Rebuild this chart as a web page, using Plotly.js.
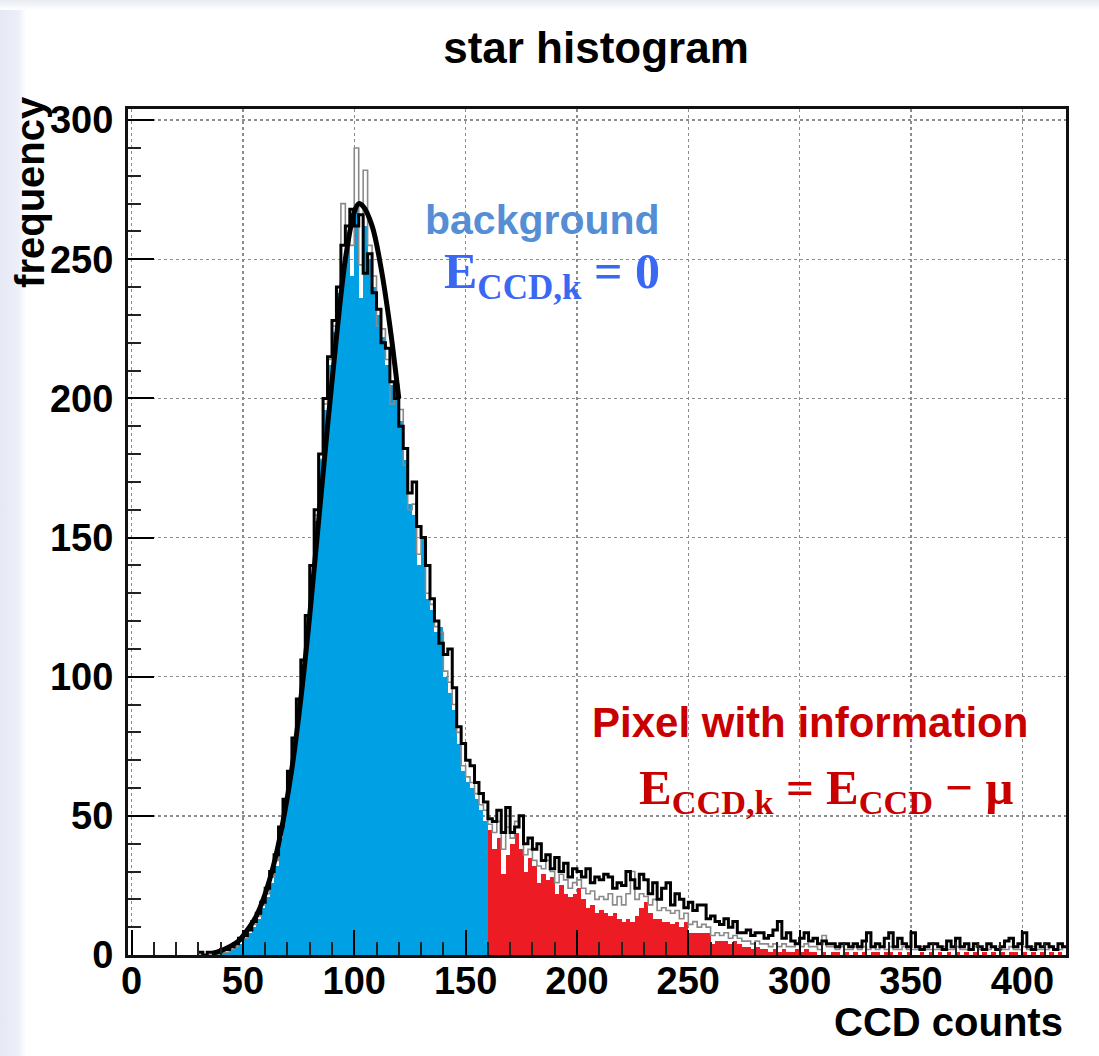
<!DOCTYPE html>
<html>
<head>
<meta charset="utf-8">
<script src="https://cdn.plot.ly/plotly-3.0.1.min.js"></script>
<style>
  html, body { margin: 0; padding: 0; }
  body {
    width: 1099px; height: 1056px; overflow: hidden;
    background: linear-gradient(to right, #e6e8f5 0px, #eceef8 18px, #ffffff 26px);
  }
  #topband { position: absolute; left: 0; top: 0; width: 1099px; height: 10px;
    background: linear-gradient(to bottom, #e9ebf4 0px, #ffffff 10px); }
  #chart { position: absolute; left: 0; top: 0; width: 1099px; height: 1056px; }
</style>
</head>
<body>
<div id="topband"></div>
<div id="chart"></div>
<script>
// Histogram binning: 2-count bins starting at 30 CCD counts
const binLow = 30;
const binWidth = 2;
// Pixels at or above this value carry star information (drawn red)
const signalCut = 160;

// Filled histogram (background in blue, signal in red)
const fillCounts = [
  0, 0, 0, 0, 0,
  1, 1, 2, 3, 4,
  6, 8, 10, 13, 17,
  21, 26, 32, 42, 52,
  62, 74, 88, 100, 116,
  134, 156, 178, 196, 212,
  224, 238, 248, 258, 244,
  270, 236, 262, 250, 240,
  230, 222, 212, 205, 200,
  192, 178, 162, 158, 140,
  150, 128, 124, 116, 118,
  100, 94, 88, 76, 66,
  62, 60, 56, 52, 48,
  45, 38, 42, 29, 36,
  40, 44, 38, 30, 35,
  32, 26, 29, 27, 28,
  22, 25, 22, 21, 22,
  24, 20, 17, 18, 15,
  16, 15, 14, 15, 13,
  12, 13, 12, 14, 17,
  19, 15, 13, 13, 12,
  12, 11, 12, 10, 12,
  8, 8, 8, 8, 8,
  4, 5, 5, 5, 4,
  5, 4, 3, 3, 2,
  3, 2, 2, 1, 2,
  1, 2, 1, 1, 2,
  1, 2, 1, 1, 0,
  1, 0, 1, 1, 0,
  1, 0, 1, 0, 1,
  0, 1, 1, 0, 1,
  1, 0, 1, 0, 1,
  0, 0, 1, 0, 1,
  0, 1, 0, 1, 0,
  1, 0, 1, 0, 1,
  0, 1, 0, 1, 0,
  1, 0, 1, 1, 0,
  1, 0, 1, 0, 1,
  0, 1, 0, 1, 0
];

// Raw star histogram (black outline)
const rawCounts = [
  1, 0, 1, 1, 1,
  2, 2, 3, 4, 6,
  7, 9, 12, 15, 19,
  24, 30, 36, 46, 56,
  66, 78, 92, 106, 122,
  140, 160, 180, 200, 215,
  228, 240, 255, 262, 268,
  262, 266, 245, 252, 238,
  232, 220, 218, 206, 200,
  190, 182, 166, 170, 154,
  150, 140, 128, 120, 112,
  108, 110, 96, 82, 76,
  70, 68, 62, 58, 55,
  49, 48, 52, 44, 53,
  44, 46, 50, 40, 42,
  38, 40, 34, 36, 31,
  35, 30, 33, 28, 31,
  30, 28, 31, 26, 28,
  27, 29, 28, 24, 26,
  25, 30, 27, 24, 29,
  27, 22, 26, 20, 24,
  26, 18, 22, 20, 17,
  19, 16, 18, 18, 13,
  14, 12, 11, 13, 10,
  12, 8, 8, 9, 7,
  8, 8, 6, 7, 9,
  12, 6, 8, 5, 4,
  6, 8, 5, 6, 4,
  5, 4, 4, 3, 4,
  4, 3, 4, 3, 5,
  8, 3, 4, 3, 6,
  8, 3, 6, 4, 3,
  8, 3, 2, 3, 4,
  4, 3, 2, 5, 3,
  6, 3, 4, 2, 4,
  3, 2, 4, 3, 2,
  3, 5, 6, 3, 4,
  8, 3, 2, 4, 3,
  4, 3, 2, 4, 3
];

// Second histogram (grey outline)
const altCounts = [
  0, 0, 0, 0, 0,
  1, 1, 2, 3, 5,
  6, 9, 11, 14, 18,
  22, 28, 34, 44, 54,
  64, 76, 90, 102, 118,
  136, 158, 178, 198, 214,
  226, 240, 270, 262, 255,
  290, 248, 282, 255, 244,
  226, 225, 214, 198, 205,
  196, 176, 160, 162, 144,
  150, 130, 126, 118, 116,
  102, 98, 90, 80, 68,
  64, 62, 58, 54, 52,
  47, 44, 48, 38, 46,
  42, 48, 50, 36, 38,
  34, 32, 31, 34, 30,
  26, 29, 27, 24, 26,
  27, 24, 22, 23, 20,
  21, 20, 22, 18, 21,
  18, 22, 30, 20, 22,
  21, 18, 20, 16, 17,
  16, 15, 16, 13, 15,
  11, 12, 10, 11, 10,
  7, 8, 7, 8, 6,
  7, 6, 5, 5, 4,
  5, 4, 4, 3, 4,
  3, 4, 3, 3, 4,
  3, 4, 3, 3, 2,
  7, 3, 3, 2, 3,
  2, 2, 3, 2, 3,
  2, 3, 2, 3, 2,
  3, 2, 2, 3, 2,
  2, 2, 3, 2, 2,
  2, 2, 3, 2, 2,
  3, 2, 2, 2, 3,
  2, 2, 2, 3, 2,
  2, 2, 3, 2, 2,
  3, 2, 3, 2, 2,
  2, 3, 2, 2, 3
];

// Fitted background peak
const fitX = [36, 40, 44, 48, 52, 56, 60, 64, 68, 72, 76, 80, 84, 88, 92, 96, 100, 102, 104, 108, 112, 116, 120];
const fitY = [0.5, 1.5, 3, 5, 9, 14, 22, 33, 48, 67, 92, 122, 156, 190, 222, 250, 267, 270, 269, 262, 247, 226, 200];

// Axis tick values and labels
const xTicks = [0, 50, 100, 150, 200, 250, 300, 350, 400];
const yTicks = [0, 50, 100, 150, 200, 250, 300];

const blue = '#00a0e4';
const red = '#ed1c24';

const centers = fillCounts.map((_, i) => binLow + binWidth * (i + 0.5));
const fillColors = centers.map(c => (c >= signalCut ? red : blue));

function stepLine(counts) {
  const xs = [], ys = [];
  counts.forEach((v, i) => { xs.push(binLow + binWidth * i); ys.push(v); });
  xs.push(binLow + binWidth * counts.length);
  ys.push(counts[counts.length - 1]);
  return { xs, ys };
}
const rawStep = stepLine(rawCounts);
const altStep = stepLine(altCounts);

const traces = [
  {
    type: 'bar', x: centers, y: fillCounts, width: binWidth,
    marker: { color: fillColors, line: { width: 0 } },
    hoverinfo: 'x+y'
  },
  {
    type: 'scatter', mode: 'lines', x: altStep.xs, y: altStep.ys,
    line: { shape: 'hv', color: '#8a8a8a', width: 1.6 }
  },
  {
    type: 'scatter', mode: 'lines', x: rawStep.xs, y: rawStep.ys,
    line: { shape: 'hv', color: '#000000', width: 3 }
  },
  {
    type: 'scatter', mode: 'lines', x: fitX, y: fitY,
    line: { shape: 'spline', color: '#000000', width: 5 }
  }
];

const tickFont = { family: 'Liberation Sans, Arial, sans-serif', size: 38, color: '#000', weight: 'bold' };

const layout = {
  width: 1099, height: 1056,
  margin: { l: 128, r: 33, t: 109, b: 101 },
  paper_bgcolor: 'rgba(0,0,0,0)',
  plot_bgcolor: '#ffffff',
  showlegend: false,
  bargap: 0,
  title: {
    text: 'star histogram',
    font: { family: 'Liberation Sans, Arial, sans-serif', size: 44, color: '#000', weight: 'bold' },
    x: 596 / 1099, xref: 'container', xanchor: 'center',
    y: 1 - 48 / 1056, yref: 'container', yanchor: 'middle'
  },
  xaxis: {
    range: [-1.6, 419.6], tickvals: xTicks, ticktext: xTicks.map(String),
    ticks: 'inside', ticklen: 25, tickwidth: 2, tickcolor: '#000',
    minor: { dtick: 10, tick0: 0, ticks: 'inside', ticklen: 13, tickwidth: 2, tickcolor: '#222', showgrid: false },
    showgrid: true, gridcolor: '#8c8c8c', gridwidth: 1.5, griddash: 'dot',
    showline: true, linecolor: '#111', linewidth: 3, mirror: true,
    zeroline: false, tickfont: tickFont, ticklabelstandoff: -10,
    layer: 'above traces', fixedrange: true
  },
  yaxis: {
    range: [0, 304], tickvals: yTicks, ticktext: yTicks.map(String),
    ticks: 'inside', ticklen: 26, tickwidth: 2, tickcolor: '#000',
    minor: { dtick: 10, tick0: 0, ticks: 'inside', ticklen: 13, tickwidth: 2, tickcolor: '#222', showgrid: false },
    showgrid: true, gridcolor: '#8c8c8c', gridwidth: 1.5, griddash: 'dot',
    showline: true, linecolor: '#111', linewidth: 3, mirror: true,
    zeroline: false, tickfont: tickFont, ticklabelstandoff: 4,
    layer: 'above traces', fixedrange: true
  },
  annotations: [
    {
      text: 'CCD counts', xref: 'paper', yref: 'paper', x: 0.999, y: -0.0792,
      xanchor: 'right', yanchor: 'middle', showarrow: false,
      font: { family: 'Liberation Sans, Arial, sans-serif', size: 40, color: '#000', weight: 'bold' }
    },
    {
      text: 'frequency', xref: 'paper', yref: 'paper', x: -0.1045, y: 0.902,
      xanchor: 'center', yanchor: 'middle', textangle: -90, showarrow: false,
      font: { family: 'Liberation Sans, Arial, sans-serif', size: 40, color: '#000', weight: 'bold' }
    },
    {
      text: 'background', xref: 'paper', yref: 'paper', x: 0.5693, y: 0.8688,
      xanchor: 'right', yanchor: 'middle', showarrow: false,
      font: { family: 'Liberation Sans, Arial, sans-serif', size: 41, color: '#558ed5', weight: 'bold' }
    },
    {
      text: 'E<sub>CCD,k</sub> = 0', xref: 'paper', yref: 'paper', x: 0.5693, y: 0.8038,
      xanchor: 'right', yanchor: 'middle', showarrow: false,
      font: { family: 'Liberation Serif, serif', size: 50, color: '#3a68f2', weight: 'bold' }
    },
    {
      text: 'Pixel with information', xref: 'paper', yref: 'paper', x: 0.9616, y: 0.2754,
      xanchor: 'right', yanchor: 'middle', showarrow: false,
      font: { family: 'Liberation Sans, Arial, sans-serif', size: 42, color: '#c80000', weight: 'bold' }
    },
    {
      text: 'E<sub>CCD,k</sub> = E<sub>CCD</sub> − μ', xref: 'paper', yref: 'paper', x: 0.9456, y: 0.195,
      xanchor: 'right', yanchor: 'middle', showarrow: false,
      font: { family: 'Liberation Serif, serif', size: 49, color: '#c80000', weight: 'bold' }
    }
  ]
};

Plotly.newPlot('chart', traces, layout, { staticPlot: true, displayModeBar: false });
</script>
</body>
</html>
